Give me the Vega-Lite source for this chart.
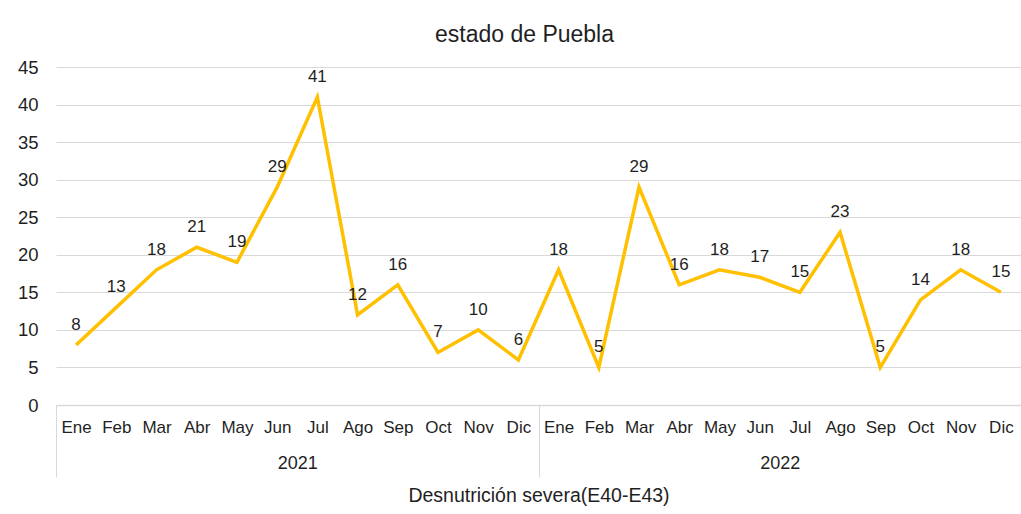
{
  "$schema": "https://vega.github.io/schema/vega-lite/v6.json",
  "width": 965,
  "height": 338,
  "autosize": {"type": "none"},
  "padding": {"left": 56, "top": 67, "right": 0, "bottom": 109},
  "background": "white",
  "title": {
    "text": "estado de Puebla",
    "font": "Liberation Sans",
    "fontSize": 23,
    "fontWeight": "normal",
    "color": "#1f1f1f",
    "baseline": "alphabetic",
    "offset": 25,
    "dx": -14,
    "dy": 32
  },
  "config": {
    "view": {"stroke": null},
    "font": "Liberation Sans",
    "axis": {"labelFont": "Liberation Sans", "titleFont": "Liberation Sans", "labelColor": "#1f1f1f", "titleColor": "#1f1f1f"}
  },
  "data": {
    "values": [
      {"idx": 1, "year": "2021", "v": 8},
      {"idx": 2, "year": "2021", "v": 13},
      {"idx": 3, "year": "2021", "v": 18},
      {"idx": 4, "year": "2021", "v": 21},
      {"idx": 5, "year": "2021", "v": 19},
      {"idx": 6, "year": "2021", "v": 29},
      {"idx": 7, "year": "2021", "v": 41},
      {"idx": 8, "year": "2021", "v": 12},
      {"idx": 9, "year": "2021", "v": 16},
      {"idx": 10, "year": "2021", "v": 7},
      {"idx": 11, "year": "2021", "v": 10},
      {"idx": 12, "year": "2021", "v": 6},
      {"idx": 13, "year": "2022", "v": 18},
      {"idx": 14, "year": "2022", "v": 5},
      {"idx": 15, "year": "2022", "v": 29},
      {"idx": 16, "year": "2022", "v": 16},
      {"idx": 17, "year": "2022", "v": 18},
      {"idx": 18, "year": "2022", "v": 17},
      {"idx": 19, "year": "2022", "v": 15},
      {"idx": 20, "year": "2022", "v": 23},
      {"idx": 21, "year": "2022", "v": 5},
      {"idx": 22, "year": "2022", "v": 14},
      {"idx": 23, "year": "2022", "v": 18},
      {"idx": 24, "year": "2022", "v": 15}
    ]
  },
  "layer": [
    {
      "mark": {"type": "point", "opacity": 0},
      "encoding": {
        "x": {
          "field": "year",
          "type": "nominal",
          "scale": {"type": "band", "paddingInner": 0, "paddingOuter": 0},
          "axis": {
            "orient": "bottom",
            "title": "Desnutrición severa(E40-E43)",
            "titleFontSize": 19.5,
            "titleFontWeight": "normal",
            "titlePadding": 9,
            "labelAngle": 0,
            "labelFontSize": 18,
            "labelPadding": -23,
            "labelBaseline": "top",
            "domain": false,
            "ticks": true,
            "tickBand": "extent",
            "tickSize": 72,
            "tickColor": "#d9d9d9",
            "tickWidth": 1,
            "grid": false
          }
        },
        "y": {
          "field": "v",
          "type": "quantitative",
          "scale": {"domain": [0, 45]},
          "axis": {
            "title": null,
            "values": [0, 5, 10, 15, 20, 25, 30, 35, 40, 45],
            "labelFontSize": 18.5,
            "labelPadding": 18,
            "ticks": false,
            "domain": false,
            "grid": true,
            "gridColor": "#d9d9d9",
            "gridWidth": 1.2
          }
        }
      }
    },
    {
      "encoding": {
        "x": {
          "field": "idx",
          "type": "ordinal",
          "scale": {"type": "point", "padding": 0.5},
          "axis": {
            "orient": "bottom",
            "title": null,
            "labelAngle": 0,
            "labelFontSize": 17,
            "labelPadding": 14,
            "labelExpr": "['Ene','Feb','Mar','Abr','May','Jun','Jul','Ago','Sep','Oct','Nov','Dic'][(datum.value - 1) % 12]",
            "ticks": false,
            "domain": true,
            "domainColor": "#d9d9d9",
            "domainWidth": 1.5,
            "grid": false
          }
        },
        "y": {
          "field": "v",
          "type": "quantitative",
          "scale": {"domain": [0, 45]},
          "axis": {
            "title": null,
            "values": [0, 5, 10, 15, 20, 25, 30, 35, 40, 45],
            "labelFontSize": 18.5,
            "labelPadding": 18,
            "ticks": false,
            "domain": false,
            "grid": true,
            "gridColor": "#d9d9d9",
            "gridWidth": 1.2
          }
        }
      },
      "layer": [
        {"mark": {"type": "line", "color": "#FFC000", "strokeWidth": 3.5}},
        {
          "mark": {"type": "text", "dy": -15, "baseline": "alphabetic", "fontSize": 17, "color": "#1f1f1f", "font": "Liberation Sans"},
          "encoding": {"text": {"field": "v", "type": "quantitative"}}
        }
      ]
    }
  ],
  "resolve": {"scale": {"x": "independent"}, "axis": {"x": "independent"}}
}
